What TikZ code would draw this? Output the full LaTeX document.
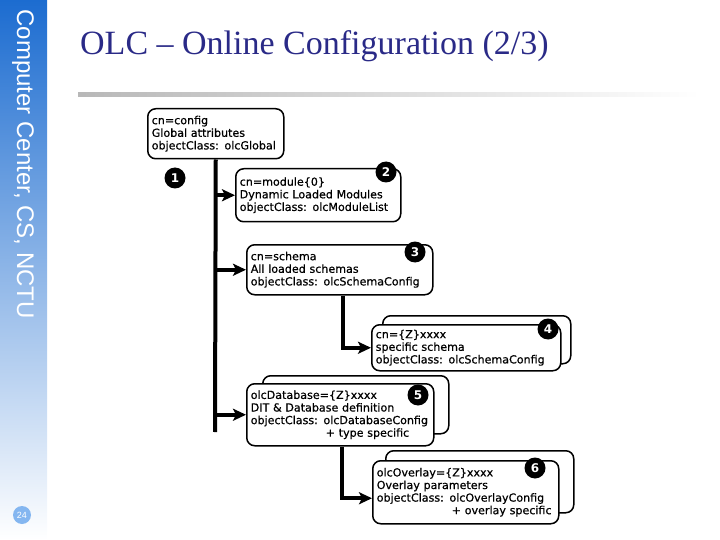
\documentclass[tikz,border=0pt]{standalone}
\usepackage{fontspec}
\setmainfont{DejaVu Sans}
\newfontfamily\entryfont[FakeBold=0.6]{DejaVu Sans}
\newfontfamily\titlefont{Liberation Serif}
\newfontfamily\sidefont{Liberation Sans}
\usepackage{tikz}
\usetikzlibrary{arrows.meta,positioning,calc}
\usepackage{xcolor}
\definecolor{sidebarblue}{RGB}{28,108,208}
\definecolor{pagecircle}{RGB}{132,182,240}
\definecolor{titlenavy}{RGB}{42,42,135}

\begin{document}
\begin{tikzpicture}[
  x=1pt, y=-1pt,
  entry/.style={rectangle, draw, fill=white, rounded corners=8pt,
                line width=1.5pt, anchor=north west, align=left,
                inner xsep=4pt, inner ysep=3pt, text width=#1,
                font=\entryfont\fontsize{11.1}{12.6}\selectfont},
  backcard/.style={rectangle, draw, fill=white, rounded corners=8pt,
                   line width=1.5pt, anchor=north west, inner sep=0pt},
  badge/.style={circle, fill=black, text=white, minimum size=21pt,
                inner sep=0pt, font=\fontsize{12}{12}\selectfont\bfseries},
  trunk/.style={line width=4pt},
  link/.style={line width=4pt, -{Stealth[length=13pt,width=12pt,inset=3pt]}},
  >=Stealth
]
  \useasboundingbox (0,0) rectangle (720,540);

  %--- Sidebar ---
  \shade[top color=sidebarblue, bottom color=white] (0,0) rectangle (47,540);
  \node[rotate=-90, anchor=west, text=white, font=\sidefont\fontsize{24}{24}\selectfont]
    (side) at (23,6) {Computer Center, CS, NCTU};
  \node[circle, fill=pagecircle, text=white, minimum size=18pt, inner sep=0pt,
        font=\sidefont\fontsize{9}{9}\selectfont] (pagenum) at (22,515) {24};

  %--- Title ---
  \node[anchor=base west, inner sep=0pt, text=titlenavy,
        font=\titlefont\fontsize{34}{34}\selectfont] (title) at (80,55)
    {OLC \textendash{} Online Configuration (2/3)};
  \shade[left color=black!28, right color=white] (78,93) rectangle (700,97);

  %--- Entries ---
  \node[entry=128pt, minimum height=50pt] (b1) at (147,108)
    {cn=config\\Global attributes\\objectClass: olcGlobal};
  \node[entry=157pt, minimum height=53pt] (b2) at (235,168)
    {cn=module\{0\}\\Dynamic Loaded Modules\\objectClass: olcModuleList};
  \node[entry=178pt, minimum height=50pt] (b3) at (246,244)
    {cn=schema\\All loaded schemas\\objectClass: olcSchemaConfig};
  % stacked cards
  \node[backcard, minimum width=188pt, minimum height=48pt] (b4back) at (382,315) {};
  \node[entry=181pt, minimum height=46pt] (b4) at (371,324)
    {cn=\{Z\}xxxx\\specific schema\\objectClass: olcSchemaConfig};
  \node[backcard, minimum width=186pt, minimum height=58pt] (b5back) at (262,375) {};
  \node[entry=179pt, minimum height=62pt] (b5) at (246,383)
    {olcDatabase=\{Z\}xxxx\\DIT \& Database definition\\objectClass: olcDatabaseConfig\\\hspace*{75pt}+ type specific};
  \node[backcard, minimum width=188pt, minimum height=62pt] (b6back) at (385,450) {};
  \node[entry=178pt, minimum height=63pt] (b6) at (372,460)
    {olcOverlay=\{Z\}xxxx\\Overlay parameters\\objectClass: olcOverlayConfig\\\hspace*{75pt}+ overlay specific};

  %--- Badges ---
  \node[badge] (n1) at (175,178) {1};
  \node[badge] (n2) at (386,172) {2};
  \node[badge] (n3) at (415,252) {3};
  \node[badge] (n4) at (548,329) {4};
  \node[badge] (n5) at (418,395) {5};
  \node[badge] (n6) at (535,468) {6};

  %--- Connectors ---
  \coordinate (trunkend) at (215,432);
  \draw[trunk] (b1.south) -- (trunkend);
  \draw[link] (b1.south |- b2.west) -- (b2.west);
  \draw[link] (b1.south |- b3.west) -- (b3.west);
  \draw[link] (b1.south |- b5.west) -- (b5.west);
  \draw[link] ([xshift=3pt]b3.south) |- (b4.west);
  \draw[link] ([xshift=2pt]b5.south) |- ([yshift=-6pt]b6.west);

\end{tikzpicture}
\end{document}
